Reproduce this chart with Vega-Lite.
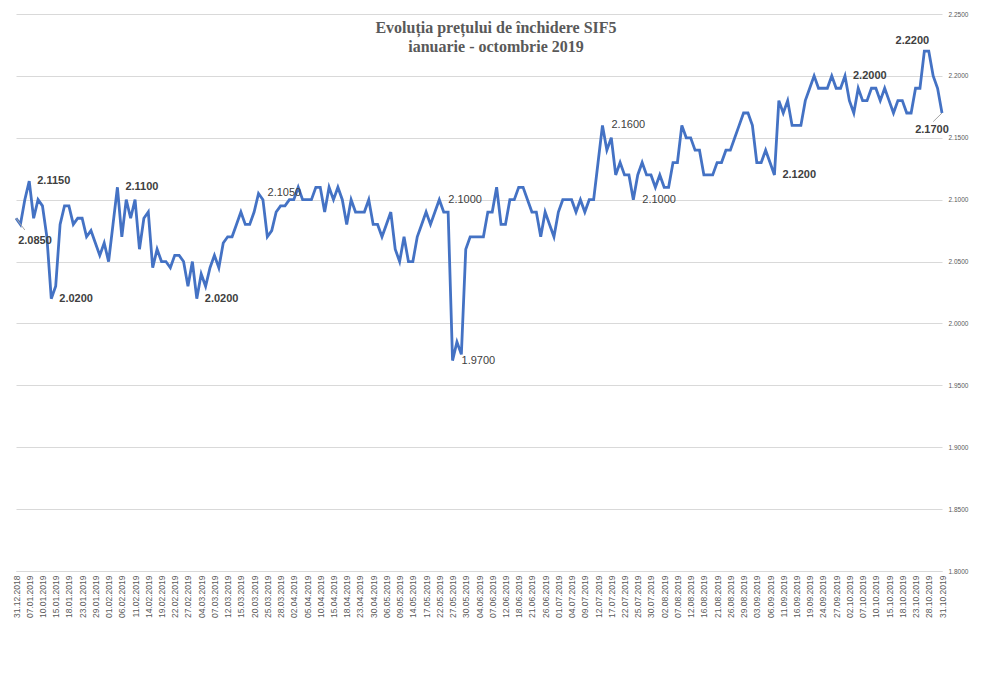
{
  "$schema": "https://vega.github.io/schema/vega-lite/v6.json",
  "width": 926,
  "height": 557,
  "autosize": {"type": "none"},
  "padding": {"left": 16, "top": 14, "right": 50, "bottom": 127},
  "background": "white",
  "title": {
    "text": ["Evoluția prețului de închidere SIF5", "ianuarie - octombrie 2019"],
    "font": "Liberation Serif",
    "fontSize": 16,
    "fontWeight": "bold",
    "color": "#595959",
    "lineHeight": 19,
    "anchor": "middle",
    "frame": "group",
    "baseline": "top",
    "offset": -8,
    "dy": 36,
    "dx": 17
  },
  "config": {
    "view": {"stroke": null},
    "font": "Liberation Sans"
  },
  "datasets": {
    "prices": [
      {"d": "31.12.2018", "v": 2.085},
      {"d": "03.01.2019", "v": 2.08},
      {"d": "04.01.2019", "v": 2.1},
      {"d": "07.01.2019", "v": 2.115},
      {"d": "08.01.2019", "v": 2.085},
      {"d": "09.01.2019", "v": 2.1},
      {"d": "10.01.2019", "v": 2.095},
      {"d": "11.01.2019", "v": 2.07},
      {"d": "14.01.2019", "v": 2.02},
      {"d": "15.01.2019", "v": 2.03},
      {"d": "16.01.2019", "v": 2.08},
      {"d": "17.01.2019", "v": 2.095},
      {"d": "18.01.2019", "v": 2.095},
      {"d": "21.01.2019", "v": 2.08},
      {"d": "22.01.2019", "v": 2.085},
      {"d": "23.01.2019", "v": 2.085},
      {"d": "25.01.2019", "v": 2.07},
      {"d": "28.01.2019", "v": 2.075},
      {"d": "29.01.2019", "v": 2.065},
      {"d": "30.01.2019", "v": 2.055},
      {"d": "31.01.2019", "v": 2.065},
      {"d": "01.02.2019", "v": 2.05},
      {"d": "04.02.2019", "v": 2.08},
      {"d": "05.02.2019", "v": 2.11},
      {"d": "06.02.2019", "v": 2.07},
      {"d": "07.02.2019", "v": 2.1},
      {"d": "08.02.2019", "v": 2.085},
      {"d": "11.02.2019", "v": 2.1},
      {"d": "12.02.2019", "v": 2.06},
      {"d": "13.02.2019", "v": 2.085},
      {"d": "14.02.2019", "v": 2.09},
      {"d": "15.02.2019", "v": 2.045},
      {"d": "18.02.2019", "v": 2.06},
      {"d": "19.02.2019", "v": 2.05},
      {"d": "20.02.2019", "v": 2.05},
      {"d": "21.02.2019", "v": 2.045},
      {"d": "22.02.2019", "v": 2.055},
      {"d": "25.02.2019", "v": 2.055},
      {"d": "26.02.2019", "v": 2.05},
      {"d": "27.02.2019", "v": 2.03},
      {"d": "28.02.2019", "v": 2.05},
      {"d": "01.03.2019", "v": 2.02},
      {"d": "04.03.2019", "v": 2.04},
      {"d": "05.03.2019", "v": 2.03},
      {"d": "06.03.2019", "v": 2.045},
      {"d": "07.03.2019", "v": 2.055},
      {"d": "08.03.2019", "v": 2.045},
      {"d": "11.03.2019", "v": 2.065},
      {"d": "12.03.2019", "v": 2.07},
      {"d": "13.03.2019", "v": 2.07},
      {"d": "14.03.2019", "v": 2.08},
      {"d": "15.03.2019", "v": 2.09},
      {"d": "18.03.2019", "v": 2.08},
      {"d": "19.03.2019", "v": 2.08},
      {"d": "20.03.2019", "v": 2.09},
      {"d": "21.03.2019", "v": 2.105},
      {"d": "22.03.2019", "v": 2.1},
      {"d": "25.03.2019", "v": 2.07},
      {"d": "26.03.2019", "v": 2.075},
      {"d": "27.03.2019", "v": 2.09},
      {"d": "28.03.2019", "v": 2.095},
      {"d": "29.03.2019", "v": 2.095},
      {"d": "01.04.2019", "v": 2.1},
      {"d": "02.04.2019", "v": 2.1},
      {"d": "03.04.2019", "v": 2.11},
      {"d": "04.04.2019", "v": 2.1},
      {"d": "05.04.2019", "v": 2.1},
      {"d": "08.04.2019", "v": 2.1},
      {"d": "09.04.2019", "v": 2.11},
      {"d": "10.04.2019", "v": 2.11},
      {"d": "11.04.2019", "v": 2.09},
      {"d": "12.04.2019", "v": 2.11},
      {"d": "15.04.2019", "v": 2.1},
      {"d": "16.04.2019", "v": 2.11},
      {"d": "17.04.2019", "v": 2.1},
      {"d": "18.04.2019", "v": 2.08},
      {"d": "19.04.2019", "v": 2.1},
      {"d": "22.04.2019", "v": 2.09},
      {"d": "23.04.2019", "v": 2.09},
      {"d": "24.04.2019", "v": 2.09},
      {"d": "25.04.2019", "v": 2.1},
      {"d": "30.04.2019", "v": 2.08},
      {"d": "02.05.2019", "v": 2.08},
      {"d": "03.05.2019", "v": 2.07},
      {"d": "06.05.2019", "v": 2.08},
      {"d": "07.05.2019", "v": 2.09},
      {"d": "08.05.2019", "v": 2.06},
      {"d": "09.05.2019", "v": 2.05},
      {"d": "10.05.2019", "v": 2.07},
      {"d": "13.05.2019", "v": 2.05},
      {"d": "14.05.2019", "v": 2.05},
      {"d": "15.05.2019", "v": 2.07},
      {"d": "16.05.2019", "v": 2.08},
      {"d": "17.05.2019", "v": 2.09},
      {"d": "20.05.2019", "v": 2.08},
      {"d": "21.05.2019", "v": 2.09},
      {"d": "22.05.2019", "v": 2.1},
      {"d": "23.05.2019", "v": 2.09},
      {"d": "24.05.2019", "v": 2.09},
      {"d": "27.05.2019", "v": 1.97},
      {"d": "28.05.2019", "v": 1.985},
      {"d": "29.05.2019", "v": 1.975},
      {"d": "30.05.2019", "v": 2.06},
      {"d": "31.05.2019", "v": 2.07},
      {"d": "03.06.2019", "v": 2.07},
      {"d": "04.06.2019", "v": 2.07},
      {"d": "05.06.2019", "v": 2.07},
      {"d": "06.06.2019", "v": 2.09},
      {"d": "07.06.2019", "v": 2.09},
      {"d": "10.06.2019", "v": 2.11},
      {"d": "11.06.2019", "v": 2.08},
      {"d": "12.06.2019", "v": 2.08},
      {"d": "13.06.2019", "v": 2.1},
      {"d": "14.06.2019", "v": 2.1},
      {"d": "18.06.2019", "v": 2.11},
      {"d": "19.06.2019", "v": 2.11},
      {"d": "20.06.2019", "v": 2.1},
      {"d": "21.06.2019", "v": 2.09},
      {"d": "24.06.2019", "v": 2.09},
      {"d": "25.06.2019", "v": 2.07},
      {"d": "26.06.2019", "v": 2.09},
      {"d": "27.06.2019", "v": 2.08},
      {"d": "28.06.2019", "v": 2.07},
      {"d": "01.07.2019", "v": 2.09},
      {"d": "02.07.2019", "v": 2.1},
      {"d": "03.07.2019", "v": 2.1},
      {"d": "04.07.2019", "v": 2.1},
      {"d": "05.07.2019", "v": 2.09},
      {"d": "08.07.2019", "v": 2.1},
      {"d": "09.07.2019", "v": 2.09},
      {"d": "10.07.2019", "v": 2.1},
      {"d": "11.07.2019", "v": 2.1},
      {"d": "12.07.2019", "v": 2.13},
      {"d": "15.07.2019", "v": 2.16},
      {"d": "16.07.2019", "v": 2.14},
      {"d": "17.07.2019", "v": 2.15},
      {"d": "18.07.2019", "v": 2.12},
      {"d": "19.07.2019", "v": 2.13},
      {"d": "22.07.2019", "v": 2.12},
      {"d": "23.07.2019", "v": 2.12},
      {"d": "24.07.2019", "v": 2.1},
      {"d": "25.07.2019", "v": 2.12},
      {"d": "26.07.2019", "v": 2.13},
      {"d": "29.07.2019", "v": 2.12},
      {"d": "30.07.2019", "v": 2.12},
      {"d": "31.07.2019", "v": 2.11},
      {"d": "01.08.2019", "v": 2.12},
      {"d": "02.08.2019", "v": 2.11},
      {"d": "05.08.2019", "v": 2.11},
      {"d": "06.08.2019", "v": 2.13},
      {"d": "07.08.2019", "v": 2.13},
      {"d": "08.08.2019", "v": 2.16},
      {"d": "09.08.2019", "v": 2.15},
      {"d": "12.08.2019", "v": 2.15},
      {"d": "13.08.2019", "v": 2.14},
      {"d": "14.08.2019", "v": 2.14},
      {"d": "16.08.2019", "v": 2.12},
      {"d": "19.08.2019", "v": 2.12},
      {"d": "20.08.2019", "v": 2.12},
      {"d": "21.08.2019", "v": 2.13},
      {"d": "22.08.2019", "v": 2.13},
      {"d": "23.08.2019", "v": 2.14},
      {"d": "26.08.2019", "v": 2.14},
      {"d": "27.08.2019", "v": 2.15},
      {"d": "28.08.2019", "v": 2.16},
      {"d": "29.08.2019", "v": 2.17},
      {"d": "30.08.2019", "v": 2.17},
      {"d": "02.09.2019", "v": 2.16},
      {"d": "03.09.2019", "v": 2.13},
      {"d": "04.09.2019", "v": 2.13},
      {"d": "05.09.2019", "v": 2.14},
      {"d": "06.09.2019", "v": 2.13},
      {"d": "09.09.2019", "v": 2.12},
      {"d": "10.09.2019", "v": 2.18},
      {"d": "11.09.2019", "v": 2.17},
      {"d": "12.09.2019", "v": 2.18},
      {"d": "13.09.2019", "v": 2.16},
      {"d": "16.09.2019", "v": 2.16},
      {"d": "17.09.2019", "v": 2.16},
      {"d": "18.09.2019", "v": 2.18},
      {"d": "19.09.2019", "v": 2.19},
      {"d": "20.09.2019", "v": 2.2},
      {"d": "23.09.2019", "v": 2.19},
      {"d": "24.09.2019", "v": 2.19},
      {"d": "25.09.2019", "v": 2.19},
      {"d": "26.09.2019", "v": 2.2},
      {"d": "27.09.2019", "v": 2.19},
      {"d": "30.09.2019", "v": 2.19},
      {"d": "01.10.2019", "v": 2.2},
      {"d": "02.10.2019", "v": 2.18},
      {"d": "03.10.2019", "v": 2.17},
      {"d": "04.10.2019", "v": 2.19},
      {"d": "07.10.2019", "v": 2.18},
      {"d": "08.10.2019", "v": 2.18},
      {"d": "09.10.2019", "v": 2.19},
      {"d": "10.10.2019", "v": 2.19},
      {"d": "11.10.2019", "v": 2.18},
      {"d": "14.10.2019", "v": 2.19},
      {"d": "15.10.2019", "v": 2.18},
      {"d": "16.10.2019", "v": 2.17},
      {"d": "17.10.2019", "v": 2.18},
      {"d": "18.10.2019", "v": 2.18},
      {"d": "21.10.2019", "v": 2.17},
      {"d": "22.10.2019", "v": 2.17},
      {"d": "23.10.2019", "v": 2.19},
      {"d": "24.10.2019", "v": 2.19},
      {"d": "25.10.2019", "v": 2.22},
      {"d": "28.10.2019", "v": 2.22},
      {"d": "29.10.2019", "v": 2.2},
      {"d": "30.10.2019", "v": 2.19},
      {"d": "31.10.2019", "v": 2.17}
    ],
    "leaders": [
      {"d": "31.12.2018", "v": 2.085, "d2": "04.01.2019", "v2": 2.0755},
      {"d": "31.10.2019", "v": 2.17, "d2": "29.10.2019", "v2": 2.163}
    ]
  },
  "encoding": {
    "x": {
      "field": "d",
      "type": "ordinal",
      "sort": null,
      "scale": {"type": "point", "padding": 0},
      "axis": {
        "title": null,
        "labelExpr": "indexof(domain('x'), datum.value) % 3 === 0 ? datum.label : ''",
        "labelAngle": 270,
        "labelAlign": "right",
        "labelBaseline": "middle",
        "labelFontSize": 8.5,
        "labelColor": "#595959",
        "labelPadding": 4,
        "labelOverlap": false,
        "labelBound": false,
        "labelFlush": false,
        "ticks": false,
        "domain": true,
        "domainColor": "#d9d9d9",
        "grid": false
      }
    },
    "y": {
      "field": "v",
      "type": "quantitative",
      "scale": {"domain": [1.8, 2.25], "nice": false, "zero": false},
      "axis": {
        "title": null,
        "orient": "right",
        "values": [1.8, 1.85, 1.9, 1.95, 2.0, 2.05, 2.1, 2.15, 2.2, 2.25],
        "format": ".4f",
        "labelFontSize": 6.5,
        "labelColor": "#595959",
        "labelPadding": 6,
        "ticks": false,
        "domain": false,
        "grid": true,
        "gridColor": "#d9d9d9",
        "gridWidth": 1
      }
    }
  },
  "layer": [
    {
      "data": {"name": "prices"},
      "mark": {"type": "line", "color": "#4472C4", "strokeWidth": 2.8, "strokeJoin": "miter", "interpolate": "linear"}
    },
    {
      "data": {"name": "leaders"},
      "mark": {"type": "rule", "color": "#a6a6a6", "strokeWidth": 1},
      "encoding": {
        "x2": {"field": "d2"},
        "y2": {"field": "v2"}
      }
    },
    {
      "data": {"name": "prices"},
      "transform": [{"filter": {"field": "d", "oneOf": ["07.01.2019", "14.01.2019", "05.02.2019", "01.03.2019", "09.09.2019", "01.10.2019"]}}],
      "mark": {"type": "text", "align": "left", "baseline": "middle", "dx": 8, "dy": 0, "fontSize": 11, "fontWeight": "bold", "color": "#404040"},
      "encoding": {"text": {"field": "v", "type": "quantitative", "format": ".4f"}}
    },
    {
      "data": {"name": "prices"},
      "transform": [{"filter": {"field": "d", "oneOf": ["21.03.2019", "22.05.2019", "27.05.2019", "15.07.2019", "24.07.2019"]}}],
      "mark": {"type": "text", "align": "left", "baseline": "middle", "dx": 9, "dy": 0, "fontSize": 11, "color": "#404040"},
      "encoding": {"text": {"field": "v", "type": "quantitative", "format": ".4f"}}
    },
    {
      "data": {"name": "prices"},
      "transform": [{"filter": {"field": "d", "oneOf": ["31.12.2018"]}}],
      "mark": {"type": "text", "align": "center", "baseline": "middle", "dx": 19, "dy": 23, "fontSize": 11, "fontWeight": "bold", "color": "#404040"},
      "encoding": {"text": {"field": "v", "type": "quantitative", "format": ".4f"}}
    },
    {
      "data": {"name": "prices"},
      "transform": [{"filter": {"field": "d", "oneOf": ["31.10.2019"]}}],
      "mark": {"type": "text", "align": "center", "baseline": "middle", "dx": -10, "dy": 17, "fontSize": 11, "fontWeight": "bold", "color": "#404040"},
      "encoding": {"text": {"field": "v", "type": "quantitative", "format": ".4f"}}
    },
    {
      "data": {"name": "prices"},
      "transform": [{"filter": {"field": "d", "oneOf": ["25.10.2019"]}}],
      "mark": {"type": "text", "align": "center", "baseline": "middle", "dx": -12, "dy": -10, "fontSize": 11, "fontWeight": "bold", "color": "#404040"},
      "encoding": {"text": {"field": "v", "type": "quantitative", "format": ".4f"}}
    }
  ]
}
